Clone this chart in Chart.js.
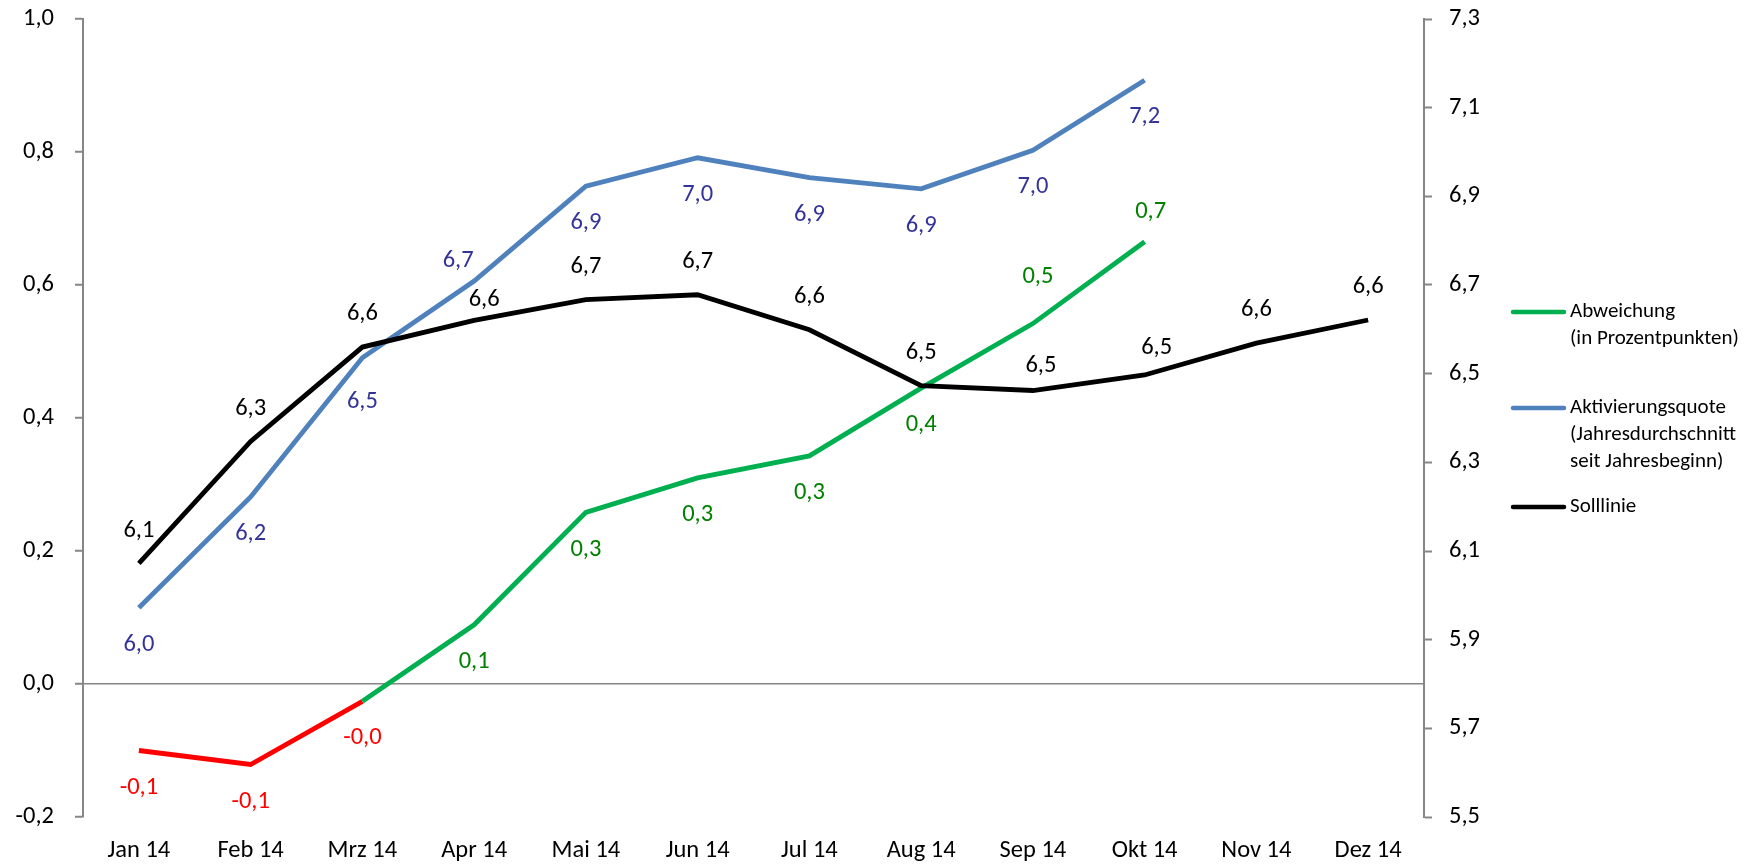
<!DOCTYPE html>
<html>
<head>
<meta charset="utf-8">
<script src="https://cdn.jsdelivr.net/npm/chart.js@4/dist/chart.umd.min.js"></script>
<style>
  html, body { margin: 0; padding: 0; background: #ffffff; }
  #wrap { width: 1760px; height: 868px; position: relative; }
  canvas { display: block; }
</style>
</head>
<body>
<div id="wrap"><canvas id="c" width="1760" height="868"></canvas></div>
<script>
// ---- Data ----
const categories = ['Jan 14','Feb 14','Mrz 14','Apr 14','Mai 14','Jun 14','Jul 14','Aug 14','Sep 14','Okt 14','Nov 14','Dez 14'];
const abweichung = [-0.100, -0.121, -0.026, 0.089, 0.258, 0.310, 0.343, 0.445, 0.542, 0.665, null, null];
const aktivierungsquote = [5.972, 6.222, 6.536, 6.709, 6.923, 6.987, 6.942, 6.917, 7.004, 7.162, null, null];
const solllinie = [6.072, 6.347, 6.560, 6.620, 6.667, 6.678, 6.599, 6.473, 6.462, 6.497, 6.569, 6.621];
const leftTicks = [-0.2, 0.0, 0.2, 0.4, 0.6, 0.8, 1.0];
const rightTicks = [5.5, 5.7, 5.9, 6.1, 6.3, 6.5, 6.7, 6.9, 7.1, 7.3];
const seriesNames = ['Abweichung\n(in Prozentpunkten)', 'Aktivierungsquote\n(Jahresdurchschnitt\nseit Jahresbeginn)', 'Solllinie'];

// ---- Styles ----
const FONT = 'Carlito, Lato, "Open Sans", sans-serif';
const GREEN = '#00B050', RED = '#FF0000', BLUE = '#4F81BD', BLACK = '#000000';
const AXIS_GRAY = '#868686';
const fmt = v => v.toFixed(1).replace('.', ',');

// label placement (dx, dy from point centre), default + per-index overrides
const labelPlacement = [
  { dx: 0, dy: 37, over: { 8: [5, -47], 9: [6, -30] } },
  { dx: 0, dy: 37, over: { 2: [0, 44], 3: [-16, -20] } },
  { dx: 0, dy: -33, over: { 3: [10, -21], 8: [8, -25], 9: [12, -27] } }
];
const labelColors = [
  v => (v < 0 ? RED : '#008000'),
  v => '#333399',
  v => BLACK
];

const dataLabelPlugin = {
  id: 'dataLabels',
  afterDatasetsDraw(chart) {
    const ctx = chart.ctx;
    ctx.save();
    ctx.font = '24.5px ' + FONT;
    ctx.textAlign = 'center';
    ctx.textBaseline = 'middle';
    chart.data.datasets.forEach((ds, i) => {
      const meta = chart.getDatasetMeta(i);
      const pl = labelPlacement[i];
      meta.data.forEach((el, j) => {
        const v = ds.data[j];
        if (v === null || v === undefined) return;
        let dx = pl.dx, dy = pl.dy;
        if (pl.over[j]) { dx = pl.over[j][0]; dy = pl.over[j][1]; }
        ctx.fillStyle = labelColors[i](v);
        ctx.fillText(fmt(v), el.x + dx, el.y + dy);
      });
    });
    ctx.restore();
  }
};

const legendPlugin = {
  id: 'customLegend',
  afterDraw(chart) {
    const ctx = chart.ctx;
    const rows = [
      { y: 312, color: GREEN },
      { y: 408, color: BLUE },
      { y: 507, color: BLACK }
    ];
    ctx.save();
    ctx.font = '21px ' + FONT;
    ctx.textAlign = 'left';
    ctx.textBaseline = 'middle';
    rows.forEach((r, i) => {
      ctx.strokeStyle = r.color;
      ctx.lineWidth = 4.5;
      ctx.lineCap = 'round';
      ctx.beginPath();
      ctx.moveTo(1513, r.y);
      ctx.lineTo(1564, r.y);
      ctx.stroke();
      ctx.fillStyle = '#000';
      seriesNames[i].split('\n').forEach((t, k) => {
        ctx.fillText(t, 1570, r.y + k * 26.8);
      });
    });
    ctx.restore();
  }
};

const noEdgePadding = s => { s.paddingTop = 0; s.paddingBottom = 0; };

new Chart(document.getElementById('c'), {
  type: 'line',
  data: {
    labels: categories,
    datasets: [
      {
        label: 'Abweichung', data: abweichung, yAxisID: 'y', order: 3,
        borderColor: GREEN, borderWidth: 4.8, pointRadius: 0, tension: 0, fill: false,
        segment: { borderColor: c => (c.p1.parsed.y < 0 ? RED : GREEN) }
      },
      {
        label: 'Aktivierungsquote', data: aktivierungsquote, yAxisID: 'y2', order: 2,
        borderColor: BLUE, borderWidth: 4.8, pointRadius: 0, tension: 0, fill: false
      },
      {
        label: 'Solllinie', data: solllinie, yAxisID: 'y2', order: 1,
        borderColor: BLACK, borderWidth: 4.8, pointRadius: 0, tension: 0, fill: false
      }
    ]
  },
  options: {
    responsive: false,
    animation: false,
    layout: { padding: { top: 19, left: 0, right: 0, bottom: 0 } },
    plugins: { legend: { display: false }, tooltip: { enabled: false } },
    scales: {
      x: {
        type: 'category', offset: true,
        grid: { display: false, drawTicks: false },
        border: { display: false },
        ticks: { font: { family: FONT, size: 24.5 }, color: '#000', padding: 19, maxRotation: 0, autoSkip: false },
        afterFit: s => { s.height = 51; s.paddingLeft = 0; s.paddingRight = 0; }
      },
      y: {
        position: 'left', min: -0.2, max: 1.0,
        afterBuildTicks: s => { s.ticks = leftTicks.map(v => ({ value: v })); },
        ticks: { font: { family: FONT, size: 24.5 }, color: '#000', padding: 21, callback: v => fmt(v) },
        grid: {
          drawOnChartArea: true,
          color: c => (c.tick && Math.abs(c.tick.value) < 1e-9 ? AXIS_GRAY : 'rgba(0,0,0,0)'),
          lineWidth: 1.5, tickLength: 8, tickColor: AXIS_GRAY, tickWidth: 2
        },
        border: { color: AXIS_GRAY, width: 2 },
        afterFit: s => { s.width = 83; noEdgePadding(s); }
      },
      y2: {
        position: 'right', min: 5.5, max: 7.3,
        afterBuildTicks: s => { s.ticks = rightTicks.map(v => ({ value: v })); },
        ticks: { font: { family: FONT, size: 24.5 }, color: '#000', padding: 17, callback: v => fmt(v) },
        grid: { drawOnChartArea: false, tickLength: 8, tickColor: AXIS_GRAY, tickWidth: 2 },
        border: { color: AXIS_GRAY, width: 2 },
        afterFit: s => { s.width = 336; noEdgePadding(s); }
      }
    }
  },
  plugins: [dataLabelPlugin, legendPlugin]
});
</script>
</body>
</html>
